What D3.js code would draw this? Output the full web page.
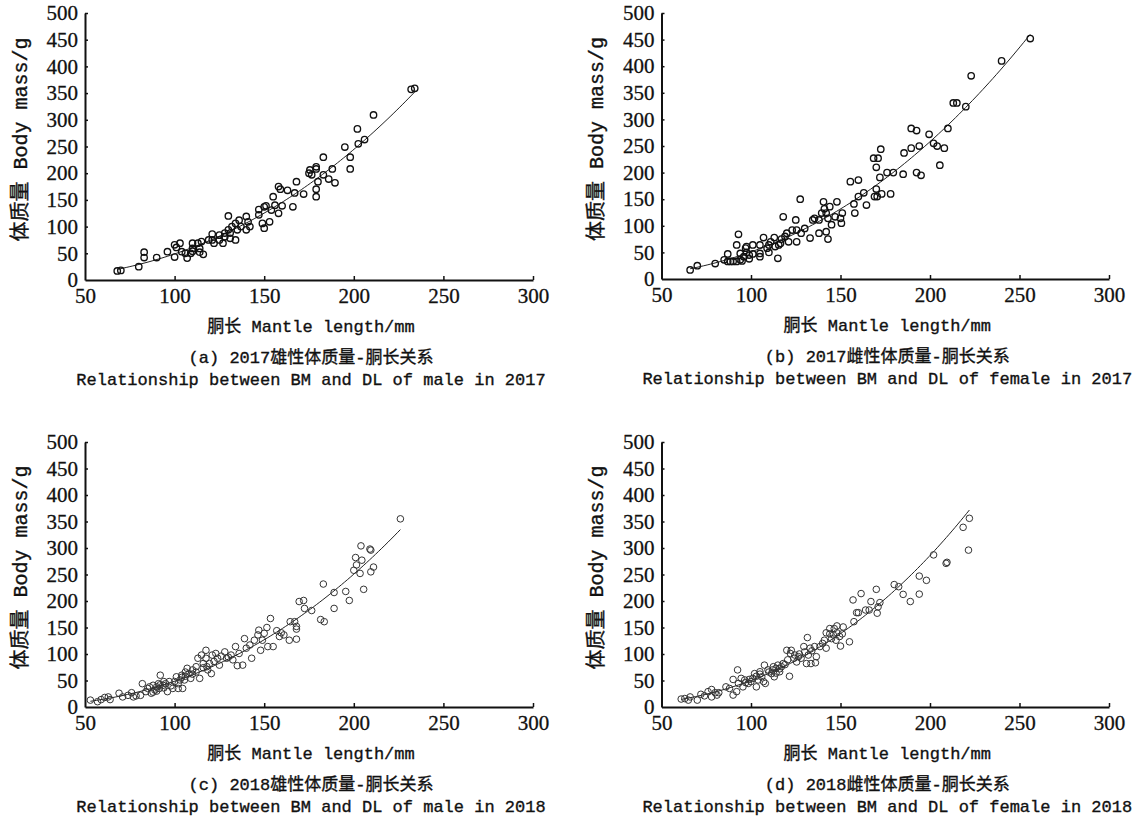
<!DOCTYPE html>
<html>
<head>
<meta charset="utf-8">
<script src="https://cdn.jsdelivr.net/npm/d3@7"></script>
<style>
  html, body { margin: 0; padding: 0; background: #fff; }
  svg { display: block; }
  .axis path, .axis line { stroke: #111; }
  .axis .tick text { font-family: "Liberation Serif", "DejaVu Serif", serif; font-size: 21px; fill: #111; stroke: #111; stroke-width: 0.3px; }
  .label { font-family: "Liberation Mono", "Noto Sans CJK SC", monospace; fill: #111; stroke: #111; stroke-width: 0.35px; }
</style>
</head>
<body>
<svg id="chart" width="1144" height="819"></svg>
<script>
// Mantle length (mm) and body mass (g) for each sample: [length, mass]
const male2017 = [
  [68,17],[70,18],[80,25],[83,52],[83,42],[90,42],[96,53],[100,43],[100,66],[101,61],
  [103,69],[104,53],[106,50],[107,41],[109,50],[110,59],[110,69],[110,54],[113,69],[114,59],
  [115,72],[116,48],[114,52],[119,75],[121,86],[121,75],[122,69],[125,75],[125,84],[127,69],
  [128,88],[128,81],[130,120],[130,94],[131,88],[131,78],[132,100],[134,75],[134,106],[135,94],
  [136,112],[137,100],[140,119],[140,94],[141,109],[142,100],[147,132],[147,122],[150,97],[149,106],
  [150,137],[151,139],[153,109],[154,131],[155,156],[156,140],[158,175],[159,170],[158,125],[160,139],
  [163,168],[166,137],[167,163],[168,184],[172,161],[175,200],[175.5,206],[176.5,197],[179,212],[179,208],
  [180,184],[179,170],[179,156],[183,230],[183,197],[186,189],[188,208],[189.5,182],[195,249],[198,230],
  [198,208],[202,283],[202.5,255],[206,263],[211,309],[232,357],[234,359]
];

const female2017 = [
  [66,17],[70,25],[80,29],[85,36],[87,47],[87,33],[88.5,33],[90,33],[92,33],[94,36],
  [92,64],[93,84],[94,48],[95,34],[96,42],[97,58],[97.5,50],[97.5,61],[99,45],[101,64],
  [101,47],[99,38],[105,48],[105,42],[105,64],[107,78],[109,58],[110,50],[110,64],[111,70],
  [113,78],[113.5,61],[115,39],[115.5,64],[116.5,67],[117,75],[118,117],[119,80],[120,86],[121,70],
  [123,92],[125,111],[125.5,70],[125.5,92],[127.5,150],[128,86],[130,95],[133,77],[134.5,111],[135.5,114],
  [138,86],[138,111],[139.5,124],[140.5,145],[141,132],[142,124],[142,89],[143,75],[143,114],[144,136],
  [145,102],[147,117],[148,145],[150,114],[150.5,105],[151,124],[155.5,183],[157.5,141],[158,124],[160,186],
  [160,155],[163,162],[164.5,139],[168.5,227],[171,227],[170,210],[172.5,244],[172,191],[170,169],[169,155],
  [170.5,155],[173,160],[176,200],[178,160],[179.5,200],[185,197],[185.5,237],[189.5,283],[189.5,246],[192.5,279],
  [192.5,200],[195,195],[194,250],[199.5,272],[202,255],[204,250],[205.5,214],[208,246],[210,283],[213,331],
  [215,331],[220,324],[223,382],[240,410],[256,452]
];

const male2018 = [
  [53,13],[57,10],[59,14],[61,18],[63,19],[64,14],[69,26],[71,19],[74,22],[76,27],
  [77,19],[78.5,21],[81,22],[82,44],[84,29],[85,35],[86,38],[87,26],[88,41],[89,32],
  [90,38],[91,44],[91.5,35],[92,60],[93.5,41],[94,48],[96,29],[97,48],[99,35],[101,57],
  [102,35],[103,51],[104,60],[104.5,35],[105.5,51],[106,66],[107,73],[108,63],[109,54],[110,70],
  [112,76],[113,92],[114,54],[115,98],[116,82],[117.5,107],[117.5,92],[118.5,70],[119.5,82],[120.5,63],
  [121,98],[123,101],[124,92],[125,79],[128,104],[129,92],[131.5,98],[132.5,89],[134,114],[135,78],
  [136,101],[138,79],[139,129],[140,111],[142,117],[143,92],[144.5,126],[146.5,136],[147,145],[148,107],
  [149,126],[150,139],[151.5,150],[152,114],[153.5,167],[155,114],[157,144],[158.5,133],[159.5,140],[161,136],
  [164,126],[164.5,161],[167,161],[168,152],[168,147],[168,128],[169.5,199],[172,201],[172.5,186],[176.5,182],
  [181.5,165],[183,232],[183.5,161],[189,216],[189,186],[195.5,218],[197.5,201],[200,258],[201,282],[201.5,268],
  [203.5,252],[204,304],[204.5,277],[205.5,222],[209,298],[209.5,296],[209.5,255],[211,264],[226,355],
  [88,28],[90,30],[92,42],[94,36],[95,44],[98,40],[100,48],[102,44],[104,56],[106,58],
  [110,62],[112,66],[116,74],[118,76],[122,86],[126,96],[130,94]
];

const female2018 = [
  [61,15],[63,16],[65,13],[66,19],[70,13],[72,24],[74,21],[76,29],[78,33],[78,19],
  [80,27],[81,22.5],[82,27],[86,38],[88,35],[90,52],[90,22.5],[92,29],[92.5,70],[93,44.5],
  [94.5,54],[95.5,38],[96.5,51],[98.5,44.5],[100,48],[101,54],[102,63],[103,38],[104,51],[105,66.5],
  [106,57],[107,48],[107.5,79],[108,44.5],[109.5,70],[111.5,63],[112.5,76],[113,57],[114,73],[115,79],
  [116,66.5],[117,76],[118,82],[120,107],[120.5,89],[121.5,58],[122,101],[122.5,107],[124.5,98],[125.5,85],
  [126.5,95],[128,92],[129.5,114],[131,82],[131.5,131],[132,98],[133,111],[133.5,82],[135.5,114],[136,83.5],
  [136.5,95],[138.5,114],[141,126],[142,111],[142,140],[144,148],[145,129],[146,136],[146.5,148],[147.5,126],
  [148,153],[149.5,133],[150,115],[151,138],[151.5,151],[155,123],[157,202],[157.5,161],[159,178],[160,178],
  [161.5,214],[164,183],[166,183],[167,199],[170,222],[170.5,177],[171,189],[172,197],[180,231],[182.5,227],
  [185,212.5],[189,199],[194,247],[194,213],[198,239],[202,287],[209,271],[209.5,273],[218.5,339],[221.5,296],
  [222,356],
  [97,46],[99,52],[103,58],[105,62],[110,66],[112,70],[114,64],[116,72],[119,80],[124,92],
  [127,100],[130,104],[134,106],[140,120],[144,138],[148,140]
];

// Axis ticks
const xTicks = [50, 100, 150, 200, 250, 300];
const yTicks = [0, 50, 100, 150, 200, 250, 300, 350, 400, 450, 500];

// Axis titles and panel captions
const xTitle = "胴长 Mantle length/mm";
const yTitle = "体质量 Body mass/g";
const captionsCn = [
  "(a) 2017雄性体质量-胴长关系",
  "(b) 2017雌性体质量-胴长关系",
  "(c) 2018雄性体质量-胴长关系",
  "(d) 2018雌性体质量-胴长关系"
];
const captionsEn = [
  "Relationship between BM and DL of male in 2017",
  "Relationship between BM and DL of female in 2017",
  "Relationship between BM and DL of male in 2018",
  "Relationship between BM and DL of female in 2018"
];

const datasets = [male2017, female2017, male2018, female2018];

// Plot boxes (pixels) and mark styles for the four panels
const boxes = [
  { left: 85,    right: 533,  top: 13,  bottom: 280, stroke: "#111", sw: 1.35, r: 3.2 },
  { left: 661.5, right: 1109, top: 13,  bottom: 279, stroke: "#111", sw: 1.35, r: 3.2 },
  { left: 85,    right: 533,  top: 442, bottom: 707, stroke: "#333", sw: 1.0, r: 3.3 },
  { left: 661.5, right: 1109, top: 442, bottom: 707, stroke: "#333", sw: 1.0, r: 3.3 }
];

// Least-squares fit of W = a * L^b on log-log scale
function powerFit(pts) {
  const lx = pts.map(p => Math.log(p[0]));
  const ly = pts.map(p => Math.log(p[1]));
  const mx = d3.mean(lx), my = d3.mean(ly);
  let sxy = 0, sxx = 0;
  for (let i = 0; i < lx.length; i++) {
    sxy += (lx[i] - mx) * (ly[i] - my);
    sxx += (lx[i] - mx) * (lx[i] - mx);
  }
  const b = sxy / sxx;
  const a = Math.exp(my - b * mx);
  return { a, b };
}

const svg = d3.select("#chart");
svg.append("rect").attr("width", 1144).attr("height", 819).attr("fill", "#fff");

datasets.forEach((data, i) => {
  const box = boxes[i];
  const x = d3.scaleLinear().domain([50, 300]).range([box.left, box.right]);
  const y = d3.scaleLinear().domain([0, 500]).range([box.bottom, box.top]);
  const g = svg.append("g");

  // axes
  const yAxis = g.append("g").attr("class", "axis")
    .attr("transform", `translate(${box.left},0)`)
    .call(d3.axisLeft(y).tickValues(yTicks).tickSizeInner(-3).tickSizeOuter(0).tickPadding(7));
  const xAxis = g.append("g").attr("class", "axis")
    .attr("transform", `translate(0,${box.bottom})`)
    .call(d3.axisBottom(x).tickValues(xTicks).tickSizeInner(-4).tickSizeOuter(0).tickPadding(8));
  [xAxis, yAxis].forEach(ax => {
    ax.select(".domain").attr("stroke-width", 2);
    ax.selectAll(".tick line").attr("stroke-width", 1.5);
  });
  xAxis.selectAll(".tick").filter(d => d === 50).select("line").remove();
  yAxis.selectAll(".tick").filter(d => d === 0).select("line").remove();

  // fitted curve
  const fit = powerFit(data);
  const [xmin, xmax] = d3.extent(data, d => d[0]);
  const curvePts = d3.range(0, 101).map(k => {
    const L = xmin + (xmax - xmin) * k / 100;
    return [L, fit.a * Math.pow(L, fit.b)];
  });
  g.append("path")
    .datum(curvePts)
    .attr("fill", "none")
    .attr("stroke", "#222")
    .attr("stroke-width", 1)
    .attr("d", d3.line().x(d => x(d[0])).y(d => y(d[1])));

  // samples
  g.append("g").selectAll("circle")
    .data(data)
    .join("circle")
    .attr("cx", d => x(d[0]))
    .attr("cy", d => y(d[1]))
    .attr("r", box.r)
    .attr("fill", "none")
    .attr("stroke", box.stroke)
    .attr("stroke-width", box.sw);

  // titles
  const cx = (box.left + box.right) / 2 + 2;
  g.append("text").attr("class", "label")
    .attr("x", cx).attr("y", box.bottom + 52)
    .attr("text-anchor", "middle").attr("font-size", 17)
    .text(xTitle);
  g.append("text").attr("class", "label")
    .attr("transform", `translate(${box.left - 64},${(box.top + box.bottom) / 2 - 7}) rotate(-90)`)
    .attr("text-anchor", "middle").attr("dominant-baseline", "central").attr("font-size", 20)
    .text(yTitle);
  g.append("text").attr("class", "label")
    .attr("x", cx).attr("y", box.bottom + 83)
    .attr("text-anchor", "middle").attr("font-size", 17)
    .text(captionsCn[i]);
  g.append("text").attr("class", "label")
    .attr("x", cx).attr("y", box.bottom + 105)
    .attr("text-anchor", "middle").attr("font-size", 17)
    .text(captionsEn[i]);
});
</script>
</body>
</html>
